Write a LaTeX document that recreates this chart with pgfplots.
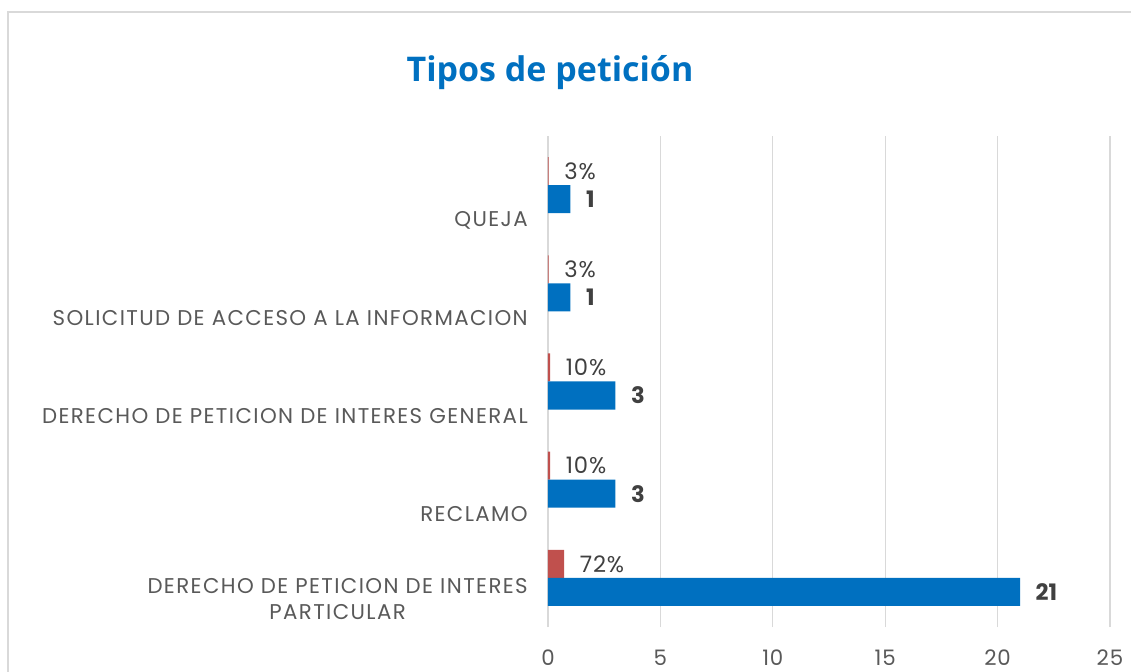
\documentclass[border=0pt]{standalone}
\usepackage{pgfplots}
\pgfplotsset{compat=1.18}
\usepackage{fontspec}
\setmainfont{Poppins}
\newfontfamily\catfont{Poppins}[LetterSpace=6.5]
\newfontfamily\lblfont{Poppins}[LetterSpace=4]
\newfontfamily\titlefont{Open Sans}
\definecolor{barblue}{HTML}{0070C0}
\definecolor{barred}{HTML}{C0504D}
\definecolor{gridgray}{HTML}{D9D9D9}
\definecolor{txtgray}{HTML}{595959}
\definecolor{lblgray}{HTML}{404040}
\begin{document}
\begin{tikzpicture}[x=1pt,y=1pt]
\useasboundingbox (-411,-33) rectangle (437.25,470.25);
\draw[gridgray, line width=0.9pt] (-405,-40) -- (-405,461.25) -- (450,461.25);
\begin{axis}[
  at={(0,0)}, anchor=south west,
  scale only axis, width=421.5pt, height=368.25pt,
  xmin=0, xmax=25, ymin=-0.5, ymax=4.5,
  xtick={0,5,...,25},
  ytick={0,1,2,3,4},
  yticklabels={{DERECHO DE PETICION DE INTERES\\PARTICULAR},RECLAMO,{DERECHO DE PETICION DE INTERES GENERAL},{SOLICITUD DE ACCESO A LA INFORMACION},QUEJA},
  axis line style={draw=none},
  xmajorgrids, grid style={gridgray, line width=1pt},
  major tick length=0pt,
  /pgf/number format/assume math mode=true,
  xticklabel style={anchor=center, yshift=-23pt, font=\lblfont\fontsize{16}{19}\selectfont, text=txtgray},
  yticklabel style={anchor=south east, align=center, inner sep=0pt, text depth=0pt, xshift=-15pt, yshift=-31.5pt, font=\catfont\fontsize{16}{19.5}\selectfont, text=txtgray},
  xbar, bar width=21pt,
  point meta=explicit symbolic,
  nodes near coords,
  nodes near coords style={anchor=west, inner sep=0pt, xshift=11.5pt, text=lblgray},
  clip=false,
]
\addplot[fill=barred, draw=none, bar shift=10.5pt, nodes near coords style={font=\lblfont\fontsize{17}{20}\selectfont}] coordinates {
  (0.72,0) [72\%]
  (0.10,1) [10\%]
  (0.10,2) [10\%]
  (0.03,3) [3\%]
  (0.03,4) [3\%]
};
\addplot[fill=barblue, draw=none, bar shift=-10.5pt, nodes near coords style={font=\bfseries\fontsize{17}{20}\selectfont}] coordinates {
  (21,0) [21]
  (3,1) [3]
  (3,2) [3]
  (1,3) [1]
  (1,4) [1]
};
\end{axis}
\node[anchor=base, text=barblue, font=\titlefont\bfseries\fontsize{25.5}{30}\selectfont] at (1.5,408.75) {Tipos de petición};
\end{tikzpicture}
\end{document}
